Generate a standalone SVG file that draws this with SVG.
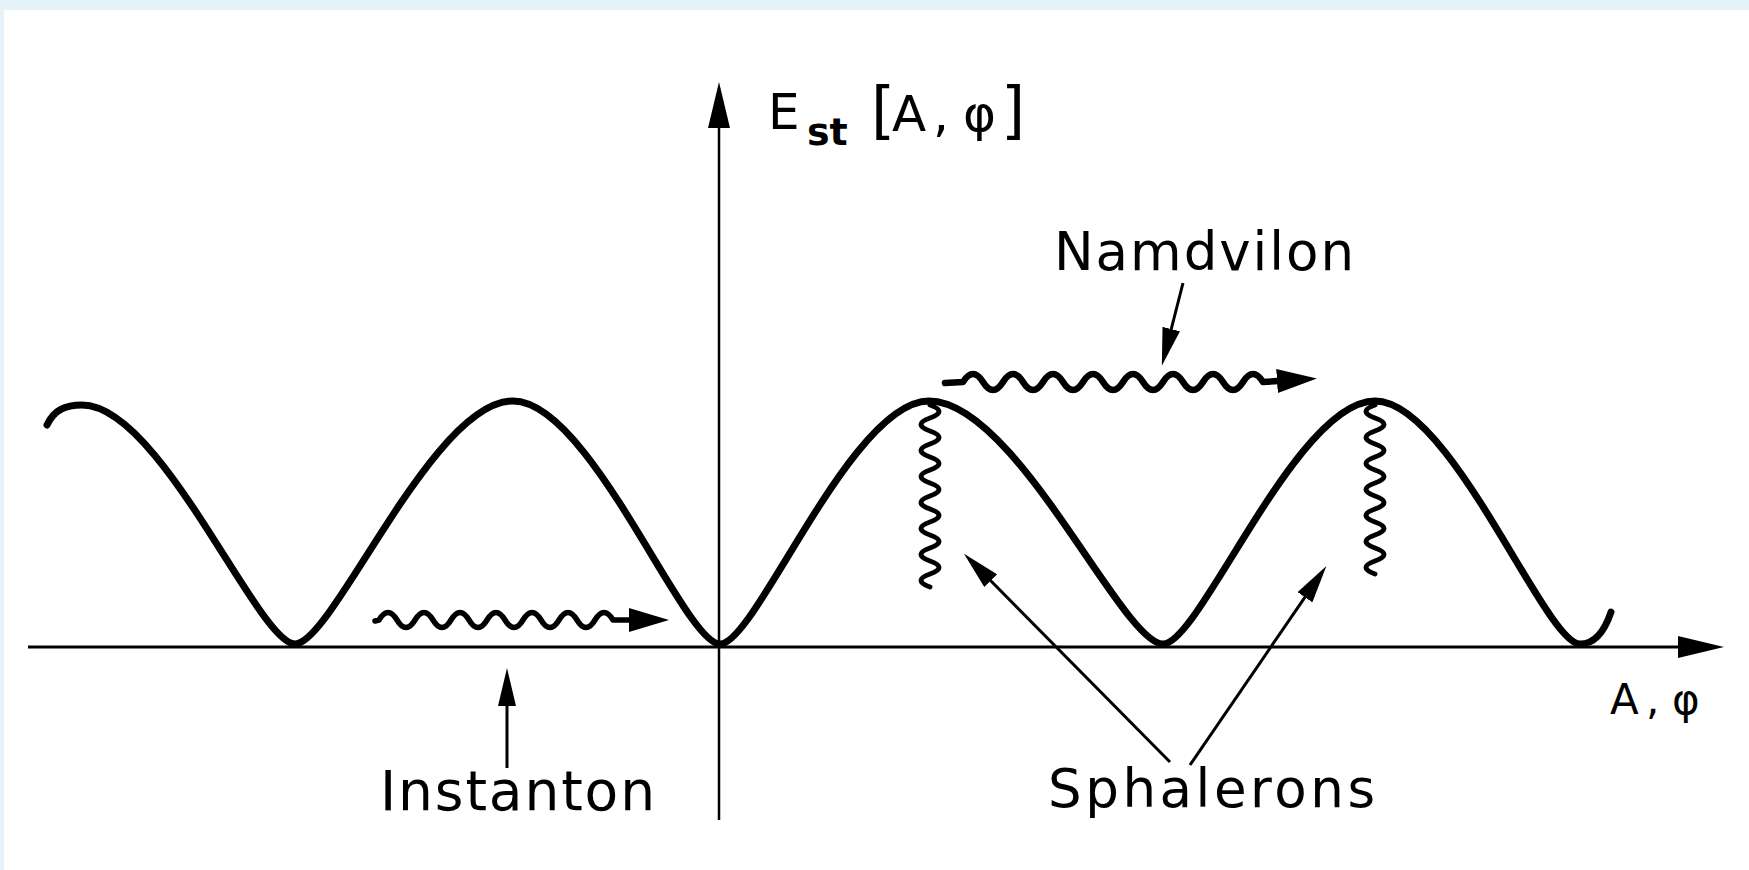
<svg xmlns="http://www.w3.org/2000/svg" width="1749" height="870" viewBox="0 0 1749 870">
  <defs>
    <style>
      .curve { fill: none; stroke: #000; stroke-width: 7; stroke-linecap: round; stroke-linejoin: round; }
      .axis { fill: none; stroke: #000; stroke-width: 3; }
      .wave { fill: none; stroke: #000; stroke-width: 5.5; stroke-linejoin: round; stroke-linecap: round; }
      .ptr { fill: none; stroke: #000; stroke-width: 3; }
      .lbl { font-family: "DejaVu Sans", "Liberation Sans", sans-serif; fill: #000; }
    </style>
    <marker id="ah-big" markerUnits="userSpaceOnUse" viewBox="0 0 46 22" markerWidth="46" markerHeight="22" refX="1" refY="11" orient="auto">
      <path d="M0,0 L46,11 L0,22 Z" fill="#000"/>
    </marker>
    <marker id="ah-wave" markerUnits="userSpaceOnUse" viewBox="0 0 40 24" markerWidth="40" markerHeight="24" refX="1" refY="12" orient="auto">
      <path d="M0,0 L40,12 L0,24 Z" fill="#000"/>
    </marker>
    <marker id="ah-ptr" markerUnits="userSpaceOnUse" viewBox="0 0 38 18" markerWidth="38" markerHeight="18" refX="1" refY="9" orient="auto">
      <path d="M0,0 L38,9 L0,18 Z" fill="#000"/>
    </marker>
  </defs>

  <rect x="0" y="0" width="1749" height="870" fill="#e6f2fa"/>
  <rect x="4" y="10" width="1745" height="860" fill="#ffffff"/>

  <g id="axes">
    <path class="axis" d="M28,647 L1679,647" marker-end="url(#ah-big)"/>
    <path class="axis" style="stroke-width:2.5" d="M719,820 L719,127" marker-end="url(#ah-big)"/>
  </g>

  <g id="potential-curve">
    <path class="curve" d="M47,425 C54,410 65,405 82,405
      C161,405 258,644 295,644
      C333,644 432,401 513,401
      C590,401 684,644 720,644
      C756,644 851,401 929,401
      C1016,401 1122,644 1163,644
      C1200,644 1296,401 1375,401
      C1451,401 1545,644 1580,644
      C1595,644 1605,630 1611,612"/>
  </g>

  <g id="connectors">
    <!-- Instanton tunnelling (wavy) -->
    <path class="wave" d="M375,621 L379,620 q9,-15 18,0 t18,0 t18,0 t18,0 t18,0 t18,0 t18,0 t18,0 t18,0 t18,0 t18,0 t18,0 t18,0 L630,620" marker-end="url(#ah-wave)"/>
    <!-- Namdvilon (wavy, over the barrier) -->
    <path class="wave" style="stroke-width:6.5" d="M945,383 L963,382 q10,-16 20,0 t20,0 t20,0 t20,0 t20,0 t20,0 t20,0 t20,0 t20,0 t20,0 t20,0 t20,0 t20,0 t20,0 t20,0 L1278,381" marker-end="url(#ah-wave)"/>
    <!-- Sphaleron decays (vertical wavy) -->
    <path class="wave" style="stroke-width:5" d="M930,405 q18,6.5 0,13 t0,13 t0,13 t0,13 t0,13 t0,13 t0,13 t0,13 t0,13 t0,13 t0,13 t0,13 t0,13 t0,13"/>
    <path class="wave" style="stroke-width:5" d="M1375,405 q-18,6.5 0,13 t0,13 t0,13 t0,13 t0,13 t0,13 t0,13 t0,13 t0,13 t0,13 t0,13 t0,13 t0,13"/>
    <!-- label pointers -->
    <path class="ptr" d="M1183,283 L1171,330" marker-end="url(#ah-ptr)"/>
    <path class="ptr" d="M507,768 L507,705" marker-end="url(#ah-ptr)"/>
    <path class="ptr" d="M1170,762 L990,580" marker-end="url(#ah-ptr)"/>
    <path class="ptr" d="M1190,765 L1305.5,596.4" marker-end="url(#ah-ptr)"/>
  </g>

  <g id="label-energy">
    <text class="lbl" x="768" y="129" font-size="50">E</text>
    <text class="lbl" x="807" y="145" font-size="38" font-weight="bold">st</text>
    <text class="lbl" y="131" font-size="50"><tspan x="871" font-size="62">[</tspan><tspan x="892">A</tspan><tspan x="933">,</tspan><tspan x="963">φ</tspan><tspan x="1001" font-size="62">]</tspan></text>
  </g>

  <g id="label-axis">
    <text class="lbl" y="714" font-size="42"><tspan x="1610">A</tspan><tspan x="1646">,</tspan><tspan x="1672">φ</tspan></text>
  </g>

  <g id="label-namdvilon">
    <text class="lbl" x="1054" y="270" font-size="53" textLength="300" lengthAdjust="spacing">Namdvilon</text>
  </g>

  <g id="label-instanton">
    <text class="lbl" x="380" y="810" font-size="55" textLength="275" lengthAdjust="spacing">Instanton</text>
  </g>

  <g id="label-sphalerons">
    <text class="lbl" x="1048" y="807" font-size="53" textLength="327" lengthAdjust="spacing">Sphalerons</text>
  </g>
</svg>
